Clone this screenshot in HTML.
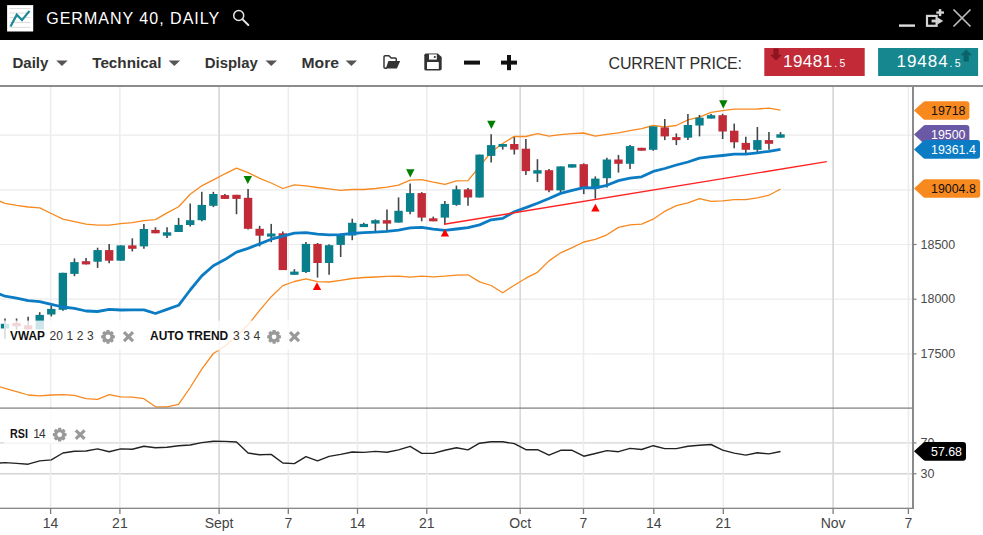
<!DOCTYPE html><html><head><meta charset="utf-8"><title>Germany 40, Daily</title><style>html,body{margin:0;padding:0;background:#fff;width:983px;height:535px;overflow:hidden}svg{display:block}text{font-family:"Liberation Sans",Arial,sans-serif}</style></head><body>
<svg width="983" height="535" viewBox="0 0 983 535">
<defs><clipPath id="main"><rect x="0" y="87" width="912" height="321"/></clipPath><clipPath id="rsi"><rect x="0" y="409" width="912" height="99"/></clipPath></defs>
<rect x="0" y="0" width="983" height="40" fill="#000"/>
<rect x="7.1" y="5.1" width="26.1" height="26.4" fill="#fff"/>
<line x1="9.5" y1="8.5" x2="30.5" y2="8.5" stroke="#d8d8d8" stroke-width="0.9"/>
<line x1="9.5" y1="13" x2="30.5" y2="13" stroke="#d8d8d8" stroke-width="0.9"/>
<line x1="9.5" y1="17.5" x2="30.5" y2="17.5" stroke="#d8d8d8" stroke-width="0.9"/>
<line x1="9.5" y1="22.5" x2="30.5" y2="22.5" stroke="#d8d8d8" stroke-width="0.9"/>
<line x1="9.5" y1="27.4" x2="30.5" y2="27.4" stroke="#d8d8d8" stroke-width="0.9"/>
<polyline points="10.5,26.5 16.8,14.7 22,20.2 29.5,10.9" fill="none" stroke="#1a8a96" stroke-width="2.2" stroke-linejoin="miter"/>
<text x="46.2" y="23.7" font-size="16" fill="#fff" textLength="173" lengthAdjust="spacing">GERMANY 40, DAILY</text>
<circle cx="238.7" cy="15.5" r="5" fill="none" stroke="#e6e6e6" stroke-width="1.5"/>
<line x1="242.6" y1="19.4" x2="248.3" y2="25" stroke="#e6e6e6" stroke-width="2" stroke-linecap="round"/>
<rect x="899" y="24.4" width="16" height="2.4" fill="#ddd"/>
<rect x="927" y="15.9" width="9.6" height="9.9" fill="none" stroke="#d4d4d4" stroke-width="2.2"/>
<rect x="931.6" y="19.6" width="6.6" height="2.8" fill="#d4d4d4"/>
<path d="M937.4,17.3 L943.2,20.95 L937.4,24.5 Z" fill="#d4d4d4"/>
<rect x="938.8" y="9.1" width="2.5" height="7" fill="#d4d4d4"/><rect x="936.3" y="11.4" width="7.7" height="2.3" fill="#d4d4d4"/>
<path d="M953.5,9.5 L970.5,26.5 M970.5,9.5 L953.5,26.5" stroke="#bcbcbc" stroke-width="1.7"/>
<rect x="0" y="40" width="983" height="45" fill="#fff"/>
<rect x="0" y="85" width="983" height="2" fill="#8c8c8c"/>
<text x="12.4" y="68.2" font-size="15" font-weight="bold" fill="#333" textLength="36" lengthAdjust="spacingAndGlyphs">Daily</text>
<path d="M56.2,60.5 h11.5 l-5.75,5.5 z" fill="#555"/>
<text x="92.2" y="68.2" font-size="15" font-weight="bold" fill="#333" textLength="69.3" lengthAdjust="spacingAndGlyphs">Technical</text>
<path d="M168.6,60.5 h11.5 l-5.75,5.5 z" fill="#555"/>
<text x="204.8" y="68.2" font-size="15" font-weight="bold" fill="#333" textLength="53" lengthAdjust="spacingAndGlyphs">Display</text>
<path d="M265.5,60.5 h11.5 l-5.75,5.5 z" fill="#555"/>
<text x="301.5" y="68.2" font-size="15" font-weight="bold" fill="#333" textLength="37.5" lengthAdjust="spacingAndGlyphs">More</text>
<path d="M345.6,60.5 h11.5 l-5.75,5.5 z" fill="#555"/>
<path d="M396.3,61 V59.1 q0,-1.1 -1.1,-1.1 H391.2 l-2.3,-2.3 H385.1 q-1.1,0 -1.1,1.1 V67.2 q0,1.1 1.1,1.1 H387" fill="#fff" stroke="#333" stroke-width="1.45"/>
<path d="M388.4,61.1 H400.2 L396.9,68.5 H385.8 Z" fill="#333"/>
<path d="M424.3,55.3 q0,-1.7 1.7,-1.7 h11.8 l3.9,3.3 v11.9 q0,1.8 -1.8,1.8 h-13.9 q-1.7,0 -1.7,-1.7 z" fill="#333"/>
<rect x="427" y="61.9" width="11.8" height="7.2" rx="0.6" fill="#fff"/>
<rect x="429" y="54.4" width="7.8" height="5.2" fill="#fff"/>
<circle cx="434.8" cy="57" r="1.1" fill="#333"/>
<rect x="464" y="60.6" width="16" height="4" fill="#111"/>
<rect x="501" y="60.6" width="16" height="4" fill="#111"/>
<rect x="507" y="55" width="4" height="15.2" fill="#111"/>
<text x="608.5" y="68.8" font-size="16" fill="#2e2e2e" textLength="133.5" lengthAdjust="spacing">CURRENT PRICE:</text>
<rect x="764.3" y="48" width="100.4" height="28" fill="#c22a38"/>
<path d="M773.4,48.6 h5.2 v6.2 h3.2 l-5.8,5.8 -5.8,-5.8 h3.2 z" fill="#8c1520"/>
<text x="783" y="66.9" font-size="17" fill="#fff" textLength="49.2" lengthAdjust="spacing">19481</text>
<text x="834.3" y="66.9" font-size="10.5" fill="#fff" letter-spacing="2.2">.5</text>
<rect x="878.1" y="48" width="100" height="28" fill="#16878f"/>
<path d="M963.6,61.4 h5.2 v-6.2 h3.2 l-5.8,-5.8 -5.8,5.8 h3.2 z" fill="#0b636a"/>
<text x="896.6" y="66.9" font-size="17" fill="#fff" textLength="51" lengthAdjust="spacing">19484</text>
<text x="949.6" y="66.9" font-size="10.5" fill="#fff" letter-spacing="2.2">.5</text>
<line x1="0" y1="135.1" x2="912" y2="135.1" stroke="#ebebeb" stroke-width="1.2"/>
<line x1="0" y1="189.8" x2="912" y2="189.8" stroke="#ebebeb" stroke-width="1.2"/>
<line x1="0" y1="244.5" x2="912" y2="244.5" stroke="#ebebeb" stroke-width="1.2"/>
<line x1="0" y1="299.2" x2="912" y2="299.2" stroke="#ebebeb" stroke-width="1.2"/>
<line x1="0" y1="353.9" x2="912" y2="353.9" stroke="#ebebeb" stroke-width="1.2"/>
<line x1="0" y1="442.9" x2="912" y2="442.9" stroke="#d4d4d4" stroke-width="1.4"/>
<line x1="0" y1="473.75" x2="912" y2="473.75" stroke="#d4d4d4" stroke-width="1.4"/>
<line x1="50.6" y1="87" x2="50.6" y2="508" stroke="#ececec" stroke-width="1.5"/>
<line x1="119.9" y1="87" x2="119.9" y2="508" stroke="#ececec" stroke-width="1.5"/>
<line x1="288.3" y1="87" x2="288.3" y2="508" stroke="#ececec" stroke-width="1.5"/>
<line x1="357.5" y1="87" x2="357.5" y2="508" stroke="#ececec" stroke-width="1.5"/>
<line x1="426.8" y1="87" x2="426.8" y2="508" stroke="#ececec" stroke-width="1.5"/>
<line x1="583.5" y1="87" x2="583.5" y2="508" stroke="#ececec" stroke-width="1.5"/>
<line x1="653.8" y1="87" x2="653.8" y2="508" stroke="#ececec" stroke-width="1.5"/>
<line x1="723.3" y1="87" x2="723.3" y2="508" stroke="#ececec" stroke-width="1.5"/>
<line x1="908.4" y1="87" x2="908.4" y2="508" stroke="#ececec" stroke-width="1.5"/>
<line x1="219.1" y1="87" x2="219.1" y2="508" stroke="#d9d9d9" stroke-width="1.7"/>
<line x1="520.2" y1="87" x2="520.2" y2="508" stroke="#d9d9d9" stroke-width="1.7"/>
<line x1="833.1" y1="87" x2="833.1" y2="508" stroke="#d9d9d9" stroke-width="1.7"/>
<g clip-path="url(#main)">
<polyline points="-6.57,198.67 5,203.3 16.57,205.3 28.15,207 39.72,207.8 51.3,213.5 62.88,219.2 74.45,221.6 86.02,224.1 97.6,225.1 109.17,225.1 120.75,223.7 132.32,222.6 143.9,220.6 155.47,219.6 167.05,212.9 178.62,206.8 190.2,194.2 201.77,185.8 213.35,179.9 224.92,173.8 236.5,168.1 248.07,172.6 259.65,178.3 271.22,183 282.8,188.5 294.38,184.8 305.95,185.8 317.52,187.5 329.1,188.9 340.67,190.3 352.25,189.5 363.82,189.5 375.4,188.5 386.97,187.1 398.55,185.2 410.12,180.2 421.7,179.6 433.27,182.1 444.85,184.3 456.42,180.9 468,180.6 479.57,166.5 491.15,152.1 502.72,143.5 514.3,136.4 525.88,136.5 537.45,133.7 549.02,136.2 560.6,134.7 572.17,133.7 583.75,133 595.32,136.2 606.9,134.3 618.47,132.8 630.05,130.6 641.62,128.7 653.2,125.5 664.77,126.8 676.35,125.5 687.92,119.9 699.5,117.1 711.07,112.4 722.65,110.6 734.22,109.1 745.8,109.1 757.38,109 768.95,108.1 780.52,110.2" fill="none" stroke="#f7891f" stroke-width="1.3" stroke-linejoin="round" />
<polyline points="-6.57,385.06 5,388.3 16.57,391.6 28.15,395 39.72,395.8 51.3,395 62.88,394.6 74.45,395.4 86.02,398.7 97.6,399.3 109.17,394.6 120.75,396.8 132.32,397.2 143.9,398.7 155.47,406.8 167.05,406.8 178.62,404.4 190.2,387.5 201.77,369.2 213.35,353.5 224.92,346.2 236.5,336.3 248.07,324.8 259.65,310.4 271.22,296.7 282.8,285.6 294.38,281.5 305.95,278.9 317.52,281.6 329.1,282 340.67,280.3 352.25,278.5 363.82,277.5 375.4,277 386.97,276.4 398.55,276.2 410.12,277.2 421.7,276.2 433.27,276.8 444.85,276.2 456.42,275.2 468,274.8 479.57,281.9 491.15,285.5 502.72,292.7 514.3,285.3 525.88,278.2 537.45,272.3 549.02,260.9 560.6,252.8 572.17,247.7 583.75,242 595.32,239.3 606.9,234.8 618.47,227.4 630.05,224.8 641.62,224.1 653.2,219.2 664.77,211.3 676.35,205.7 687.92,202.8 699.5,198.6 711.07,201.3 722.65,200.8 734.22,199.7 745.8,199.7 757.38,197.9 768.95,195.2 780.52,189" fill="none" stroke="#f7891f" stroke-width="1.3" stroke-linejoin="round" />
<line x1="5" y1="318.5" x2="5" y2="339" stroke="#41484b" stroke-width="1.6"/>
<line x1="16.57" y1="318.5" x2="16.57" y2="329.7" stroke="#41484b" stroke-width="1.6"/>
<line x1="28.15" y1="316.7" x2="28.15" y2="329.4" stroke="#41484b" stroke-width="1.6"/>
<line x1="39.72" y1="312.2" x2="39.72" y2="329.4" stroke="#41484b" stroke-width="1.6"/>
<line x1="51.3" y1="305.7" x2="51.3" y2="316.4" stroke="#41484b" stroke-width="1.6"/>
<line x1="62.88" y1="272.8" x2="62.88" y2="310.7" stroke="#41484b" stroke-width="1.6"/>
<line x1="74.45" y1="258.4" x2="74.45" y2="276.2" stroke="#41484b" stroke-width="1.6"/>
<line x1="86.02" y1="258" x2="86.02" y2="264.4" stroke="#41484b" stroke-width="1.6"/>
<line x1="97.6" y1="247.7" x2="97.6" y2="267.9" stroke="#41484b" stroke-width="1.6"/>
<line x1="109.17" y1="244.1" x2="109.17" y2="263.2" stroke="#41484b" stroke-width="1.6"/>
<line x1="120.75" y1="245.4" x2="120.75" y2="260.7" stroke="#41484b" stroke-width="1.6"/>
<line x1="132.32" y1="238.3" x2="132.32" y2="251.4" stroke="#41484b" stroke-width="1.6"/>
<line x1="143.9" y1="223.9" x2="143.9" y2="248.8" stroke="#41484b" stroke-width="1.6"/>
<line x1="155.47" y1="227.3" x2="155.47" y2="233.3" stroke="#41484b" stroke-width="1.6"/>
<line x1="167.05" y1="227.3" x2="167.05" y2="237.9" stroke="#41484b" stroke-width="1.6"/>
<line x1="178.62" y1="217.9" x2="178.62" y2="232" stroke="#41484b" stroke-width="1.6"/>
<line x1="190.2" y1="203.4" x2="190.2" y2="226.4" stroke="#41484b" stroke-width="1.6"/>
<line x1="201.77" y1="191.8" x2="201.77" y2="221.3" stroke="#41484b" stroke-width="1.6"/>
<line x1="213.35" y1="191.8" x2="213.35" y2="207.1" stroke="#41484b" stroke-width="1.6"/>
<line x1="224.92" y1="194" x2="224.92" y2="198.9" stroke="#41484b" stroke-width="1.6"/>
<line x1="236.5" y1="194.8" x2="236.5" y2="214.2" stroke="#41484b" stroke-width="1.6"/>
<line x1="248.07" y1="189" x2="248.07" y2="229.5" stroke="#41484b" stroke-width="1.6"/>
<line x1="259.65" y1="225.8" x2="259.65" y2="246.4" stroke="#41484b" stroke-width="1.6"/>
<line x1="271.22" y1="223.9" x2="271.22" y2="242.2" stroke="#41484b" stroke-width="1.6"/>
<line x1="282.8" y1="231.4" x2="282.8" y2="270.1" stroke="#41484b" stroke-width="1.6"/>
<line x1="294.38" y1="269.2" x2="294.38" y2="274.8" stroke="#41484b" stroke-width="1.6"/>
<line x1="305.95" y1="242.1" x2="305.95" y2="272.9" stroke="#41484b" stroke-width="1.6"/>
<line x1="317.52" y1="243" x2="317.52" y2="277.6" stroke="#41484b" stroke-width="1.6"/>
<line x1="329.1" y1="244.3" x2="329.1" y2="274.8" stroke="#41484b" stroke-width="1.6"/>
<line x1="340.67" y1="233.3" x2="340.67" y2="257" stroke="#41484b" stroke-width="1.6"/>
<line x1="352.25" y1="218.7" x2="352.25" y2="240.2" stroke="#41484b" stroke-width="1.6"/>
<line x1="363.82" y1="222.8" x2="363.82" y2="227.1" stroke="#41484b" stroke-width="1.6"/>
<line x1="375.4" y1="219.4" x2="375.4" y2="232" stroke="#41484b" stroke-width="1.6"/>
<line x1="386.97" y1="209.5" x2="386.97" y2="231" stroke="#41484b" stroke-width="1.6"/>
<line x1="398.55" y1="197.4" x2="398.55" y2="222.6" stroke="#41484b" stroke-width="1.6"/>
<line x1="410.12" y1="183.4" x2="410.12" y2="214.2" stroke="#41484b" stroke-width="1.6"/>
<line x1="421.7" y1="192.1" x2="421.7" y2="221.3" stroke="#41484b" stroke-width="1.6"/>
<line x1="433.27" y1="216.6" x2="433.27" y2="221.3" stroke="#41484b" stroke-width="1.6"/>
<line x1="444.85" y1="201.1" x2="444.85" y2="224.5" stroke="#41484b" stroke-width="1.6"/>
<line x1="456.42" y1="185.6" x2="456.42" y2="205.8" stroke="#41484b" stroke-width="1.6"/>
<line x1="468" y1="188.1" x2="468" y2="205.7" stroke="#41484b" stroke-width="1.6"/>
<line x1="479.57" y1="154.6" x2="479.57" y2="197.5" stroke="#41484b" stroke-width="1.6"/>
<line x1="491.15" y1="134.2" x2="491.15" y2="162.6" stroke="#41484b" stroke-width="1.6"/>
<line x1="502.72" y1="144" x2="502.72" y2="149.6" stroke="#41484b" stroke-width="1.6"/>
<line x1="514.3" y1="137.1" x2="514.3" y2="154.5" stroke="#41484b" stroke-width="1.6"/>
<line x1="525.88" y1="139" x2="525.88" y2="174.9" stroke="#41484b" stroke-width="1.6"/>
<line x1="537.45" y1="159.2" x2="537.45" y2="182" stroke="#41484b" stroke-width="1.6"/>
<line x1="549.02" y1="168.9" x2="549.02" y2="192.2" stroke="#41484b" stroke-width="1.6"/>
<line x1="560.6" y1="166.4" x2="560.6" y2="192.2" stroke="#41484b" stroke-width="1.6"/>
<line x1="572.17" y1="164.2" x2="572.17" y2="167.6" stroke="#41484b" stroke-width="1.6"/>
<line x1="583.75" y1="163.3" x2="583.75" y2="194.1" stroke="#41484b" stroke-width="1.6"/>
<line x1="595.32" y1="176.4" x2="595.32" y2="198.8" stroke="#41484b" stroke-width="1.6"/>
<line x1="606.9" y1="157.7" x2="606.9" y2="187.6" stroke="#41484b" stroke-width="1.6"/>
<line x1="618.47" y1="154.9" x2="618.47" y2="172.6" stroke="#41484b" stroke-width="1.6"/>
<line x1="630.05" y1="145.1" x2="630.05" y2="168.9" stroke="#41484b" stroke-width="1.6"/>
<line x1="641.62" y1="147.8" x2="641.62" y2="150.7" stroke="#41484b" stroke-width="1.6"/>
<line x1="653.2" y1="126.4" x2="653.2" y2="150.7" stroke="#41484b" stroke-width="1.6"/>
<line x1="664.77" y1="119" x2="664.77" y2="140.1" stroke="#41484b" stroke-width="1.6"/>
<line x1="676.35" y1="133.4" x2="676.35" y2="145.1" stroke="#41484b" stroke-width="1.6"/>
<line x1="687.92" y1="113.9" x2="687.92" y2="140.1" stroke="#41484b" stroke-width="1.6"/>
<line x1="699.5" y1="114.9" x2="699.5" y2="136.4" stroke="#41484b" stroke-width="1.6"/>
<line x1="711.07" y1="113.9" x2="711.07" y2="118.6" stroke="#41484b" stroke-width="1.6"/>
<line x1="722.65" y1="113.9" x2="722.65" y2="139" stroke="#41484b" stroke-width="1.6"/>
<line x1="734.22" y1="123.6" x2="734.22" y2="148.3" stroke="#41484b" stroke-width="1.6"/>
<line x1="745.8" y1="136.7" x2="745.8" y2="153.6" stroke="#41484b" stroke-width="1.6"/>
<line x1="757.38" y1="127" x2="757.38" y2="152.6" stroke="#41484b" stroke-width="1.6"/>
<line x1="768.95" y1="132.1" x2="768.95" y2="149.8" stroke="#41484b" stroke-width="1.6"/>
<line x1="780.52" y1="132.1" x2="780.52" y2="137.7" stroke="#41484b" stroke-width="1.6"/>
<rect x="0.8" y="323.8" width="8.4" height="4.7" fill="#087f8b"/>
<rect x="12.38" y="322.9" width="8.4" height="3.4" fill="#c12a37"/>
<rect x="23.95" y="325.3" width="8.4" height="4.1" fill="#c12a37"/>
<rect x="35.52" y="314.9" width="8.4" height="14.5" fill="#087f8b"/>
<rect x="47.1" y="308.9" width="8.4" height="5.6" fill="#087f8b"/>
<rect x="58.67" y="272.8" width="8.4" height="37" fill="#087f8b"/>
<rect x="70.25" y="262.1" width="8.4" height="11.8" fill="#087f8b"/>
<rect x="81.82" y="261.2" width="8.4" height="3.2" fill="#c12a37"/>
<rect x="93.4" y="250.1" width="8.4" height="11.6" fill="#087f8b"/>
<rect x="104.97" y="250.1" width="8.4" height="10.6" fill="#c12a37"/>
<rect x="116.55" y="245.4" width="8.4" height="15.3" fill="#087f8b"/>
<rect x="128.12" y="245.4" width="8.4" height="3.4" fill="#c12a37"/>
<rect x="139.7" y="229" width="8.4" height="17.4" fill="#087f8b"/>
<rect x="151.28" y="229.9" width="8.4" height="3.4" fill="#c12a37"/>
<rect x="162.85" y="232.3" width="8.4" height="3.4" fill="#087f8b"/>
<rect x="174.43" y="224.9" width="8.4" height="7.1" fill="#087f8b"/>
<rect x="186" y="220.2" width="8.4" height="4.8" fill="#087f8b"/>
<rect x="197.57" y="204.9" width="8.4" height="15.3" fill="#087f8b"/>
<rect x="209.15" y="194" width="8.4" height="11.8" fill="#087f8b"/>
<rect x="220.72" y="195.1" width="8.4" height="3.8" fill="#c12a37"/>
<rect x="232.3" y="194.8" width="8.4" height="4.1" fill="#c12a37"/>
<rect x="243.88" y="197.8" width="8.4" height="31" fill="#c12a37"/>
<rect x="255.45" y="228.8" width="8.4" height="6.9" fill="#c12a37"/>
<rect x="267.02" y="233.5" width="8.4" height="3.1" fill="#087f8b"/>
<rect x="278.6" y="233.3" width="8.4" height="36.8" fill="#c12a37"/>
<rect x="290.18" y="271.6" width="8.4" height="3.2" fill="#087f8b"/>
<rect x="301.75" y="243.9" width="8.4" height="28.1" fill="#087f8b"/>
<rect x="313.32" y="243.9" width="8.4" height="19.1" fill="#c12a37"/>
<rect x="324.9" y="245.2" width="8.4" height="17.8" fill="#087f8b"/>
<rect x="336.47" y="235.1" width="8.4" height="9.8" fill="#087f8b"/>
<rect x="348.05" y="222.8" width="8.4" height="12.7" fill="#087f8b"/>
<rect x="359.62" y="223.9" width="8.4" height="3.2" fill="#087f8b"/>
<rect x="371.2" y="220.2" width="8.4" height="3.4" fill="#087f8b"/>
<rect x="382.77" y="220.2" width="8.4" height="3.4" fill="#c12a37"/>
<rect x="394.35" y="210.8" width="8.4" height="11.8" fill="#087f8b"/>
<rect x="405.93" y="193.1" width="8.4" height="18.7" fill="#087f8b"/>
<rect x="417.5" y="193.1" width="8.4" height="24.5" fill="#c12a37"/>
<rect x="429.07" y="218.3" width="8.4" height="3" fill="#c12a37"/>
<rect x="440.65" y="203.9" width="8.4" height="13.7" fill="#087f8b"/>
<rect x="452.22" y="189.3" width="8.4" height="15.6" fill="#087f8b"/>
<rect x="463.8" y="189.4" width="8.4" height="8.1" fill="#c12a37"/>
<rect x="475.38" y="154.6" width="8.4" height="42.9" fill="#087f8b"/>
<rect x="486.95" y="145.1" width="8.4" height="10.8" fill="#087f8b"/>
<rect x="498.52" y="144" width="8.4" height="2.8" fill="#087f8b"/>
<rect x="510.1" y="144" width="8.4" height="5.6" fill="#c12a37"/>
<rect x="521.67" y="148.7" width="8.4" height="22.4" fill="#c12a37"/>
<rect x="533.25" y="170.2" width="8.4" height="3.4" fill="#087f8b"/>
<rect x="544.82" y="170.2" width="8.4" height="20.2" fill="#c12a37"/>
<rect x="556.4" y="166.4" width="8.4" height="24" fill="#087f8b"/>
<rect x="567.97" y="164.2" width="8.4" height="3.4" fill="#087f8b"/>
<rect x="579.55" y="164.2" width="8.4" height="23.4" fill="#c12a37"/>
<rect x="591.12" y="178.6" width="8.4" height="9.9" fill="#087f8b"/>
<rect x="602.7" y="159.5" width="8.4" height="18.7" fill="#087f8b"/>
<rect x="614.27" y="159.5" width="8.4" height="4.3" fill="#c12a37"/>
<rect x="625.85" y="146.1" width="8.4" height="17.7" fill="#087f8b"/>
<rect x="637.42" y="147.8" width="8.4" height="2.9" fill="#c12a37"/>
<rect x="649" y="126.4" width="8.4" height="23.4" fill="#087f8b"/>
<rect x="660.57" y="127.4" width="8.4" height="9" fill="#c12a37"/>
<rect x="672.15" y="137.1" width="8.4" height="3" fill="#c12a37"/>
<rect x="683.72" y="125" width="8.4" height="12.7" fill="#087f8b"/>
<rect x="695.3" y="117.7" width="8.4" height="7.8" fill="#087f8b"/>
<rect x="706.87" y="115.2" width="8.4" height="3.4" fill="#087f8b"/>
<rect x="718.45" y="115.2" width="8.4" height="16.3" fill="#c12a37"/>
<rect x="730.02" y="130.7" width="8.4" height="11.6" fill="#c12a37"/>
<rect x="741.6" y="142.9" width="8.4" height="6.9" fill="#c12a37"/>
<rect x="753.17" y="140.1" width="8.4" height="9.7" fill="#087f8b"/>
<rect x="764.75" y="140.1" width="8.4" height="3.7" fill="#c12a37"/>
<rect x="776.32" y="134.3" width="8.4" height="3.4" fill="#087f8b"/>
<polyline points="-6.57,291.57 5,296.2 16.57,298.2 28.15,300.7 39.72,301.7 51.3,304.3 62.88,307 74.45,308.4 86.02,311 97.6,311.5 109.17,309.4 120.75,310 132.32,309.8 143.9,309.8 155.47,313.5 167.05,309.4 178.62,305.3 190.2,290 201.77,275.9 213.35,265.7 224.92,259.6 236.5,252.1 248.07,248.4 259.65,243.9 271.22,239.2 282.8,236.2 294.38,233.1 305.95,232.7 317.52,234.2 329.1,234.8 340.67,234.6 352.25,233.5 363.82,232.7 375.4,232.1 386.97,231.4 398.55,230.1 410.12,227.9 421.7,227.3 433.27,229.2 444.85,230.3 456.42,229 468,227.6 479.57,224.9 491.15,219.8 502.72,218.4 514.3,211.7 525.88,207.6 537.45,203.2 549.02,198.5 560.6,193.4 572.17,190.3 583.75,187.7 595.32,187.9 606.9,185.3 618.47,180.6 630.05,178.1 641.62,176.8 653.2,171.4 664.77,168.5 676.35,165 687.92,162 699.5,158.2 711.07,156.7 722.65,155.5 734.22,154.1 745.8,154.1 757.38,152.8 768.95,151.3 780.52,149.3" fill="none" stroke="#0b7cc3" stroke-width="2.8" stroke-linejoin="round" />
<line x1="444.1" y1="224.3" x2="826.8" y2="161.6" stroke="#ff2222" stroke-width="1.4"/>
<path d="M243.6,175.9 h8.4 l-4.2,8.1 z" fill="#007f00"/>
<path d="M406.1,169.3 h8.4 l-4.2,8.1 z" fill="#007f00"/>
<path d="M487.2,120.8 h8.4 l-4.2,8.1 z" fill="#007f00"/>
<path d="M719.1,100.3 h8.4 l-4.2,8.1 z" fill="#007f00"/>
<path d="M312.8,289.9 h8.4 l-4.2,-7.7 z" fill="#ff0000"/>
<path d="M440.7,236.6 h8.4 l-4.2,-7.7 z" fill="#ff0000"/>
<path d="M591.2,211.5 h8.4 l-4.2,-7.7 z" fill="#ff0000"/>
</g>
<g clip-path="url(#rsi)">
<polyline points="-6.57,463.5 5,462.6 16.57,463.4 28.15,464.2 39.72,460.9 51.3,459.9 62.88,453 74.45,451.2 86.02,451 97.6,448.9 109.17,451.8 120.75,448.9 132.32,449.3 143.9,446.3 155.47,447.7 167.05,447.3 178.62,445.7 190.2,445 201.77,442.6 213.35,441.2 224.92,441.4 236.5,442 248.07,453 259.65,454.8 271.22,454.4 282.8,463 294.38,463.6 305.95,456.7 317.52,460.9 329.1,456.4 340.67,454.4 352.25,452 363.82,452.4 375.4,451.4 386.97,452.2 398.55,449.9 410.12,446.3 421.7,453.4 433.27,453.4 444.85,450.3 456.42,447.7 468,449.9 479.57,443.2 491.15,441.8 502.72,441.8 514.3,443.6 525.88,449.7 537.45,449.7 549.02,455.2 560.6,450.3 572.17,450.3 583.75,456.2 595.32,453.5 606.9,450.6 618.47,451.7 630.05,448.4 641.62,449.5 653.2,445.7 664.77,448.6 676.35,448.6 687.92,446.3 699.5,445.2 711.07,444.5 722.65,450.1 734.22,453.1 745.8,455.1 757.38,452.8 768.95,453.9 780.52,451.5" fill="none" stroke="#222" stroke-width="1.4" stroke-linejoin="round" />
</g>
<rect x="0" y="407.5" width="912" height="1.2" fill="#7a7a7a"/>
<rect x="0" y="507.7" width="913" height="1.2" fill="#7a7a7a"/>
<rect x="912" y="87" width="2" height="422" fill="#8a8a8a"/>
<line x1="50.6" y1="509" x2="50.6" y2="514" stroke="#7a7a7a" stroke-width="1.3"/>
<line x1="119.9" y1="509" x2="119.9" y2="514" stroke="#7a7a7a" stroke-width="1.3"/>
<line x1="288.3" y1="509" x2="288.3" y2="514" stroke="#7a7a7a" stroke-width="1.3"/>
<line x1="357.5" y1="509" x2="357.5" y2="514" stroke="#7a7a7a" stroke-width="1.3"/>
<line x1="426.8" y1="509" x2="426.8" y2="514" stroke="#7a7a7a" stroke-width="1.3"/>
<line x1="583.5" y1="509" x2="583.5" y2="514" stroke="#7a7a7a" stroke-width="1.3"/>
<line x1="653.8" y1="509" x2="653.8" y2="514" stroke="#7a7a7a" stroke-width="1.3"/>
<line x1="723.3" y1="509" x2="723.3" y2="514" stroke="#7a7a7a" stroke-width="1.3"/>
<line x1="908.4" y1="509" x2="908.4" y2="514" stroke="#7a7a7a" stroke-width="1.3"/>
<line x1="219.1" y1="509" x2="219.1" y2="514" stroke="#7a7a7a" stroke-width="1.3"/>
<line x1="520.2" y1="509" x2="520.2" y2="514" stroke="#7a7a7a" stroke-width="1.3"/>
<line x1="833.1" y1="509" x2="833.1" y2="514" stroke="#7a7a7a" stroke-width="1.3"/>
<rect x="4" y="320.6" width="300" height="29.8" fill="#fff" fill-opacity="0.8"/>
<rect x="4" y="409" width="86" height="34.6" fill="#fff" fill-opacity="0.8"/>
<text x="10" y="339.6" font-size="12" font-weight="bold" fill="#111" textLength="34.8" lengthAdjust="spacingAndGlyphs">VWAP</text>
<text x="49.6" y="339.6" font-size="12" fill="#333" textLength="44" lengthAdjust="spacing">20 1 2 3</text>
<path d="M114.86,335.41 L114.86,338.19 L112.79,338.77 L112.78,338.80 L113.83,340.67 L111.87,342.63 L110.00,341.58 L109.97,341.59 L109.39,343.66 L106.61,343.66 L106.03,341.59 L106.00,341.58 L104.13,342.63 L102.17,340.67 L103.22,338.80 L103.21,338.77 L101.14,338.19 L101.14,335.41 L103.21,334.83 L103.22,334.80 L102.17,332.93 L104.13,330.97 L106.00,332.02 L106.03,332.01 L106.61,329.94 L109.39,329.94 L109.97,332.01 L110.00,332.02 L111.87,330.97 L113.83,332.93 L112.78,334.80 L112.79,334.83 Z" fill="#999"/><circle cx="108" cy="336.8" r="2.38" fill="#fff"/>
<path d="M124,332.2 L133,341.2 M133,332.2 L124,341.2" stroke="#999" stroke-width="3.1"/>
<text x="150" y="339.6" font-size="12" font-weight="bold" fill="#111" textLength="78.2" lengthAdjust="spacingAndGlyphs">AUTO TREND</text>
<text x="233" y="339.6" font-size="12" fill="#333" textLength="27.2" lengthAdjust="spacing">3 3 4</text>
<path d="M280.96,335.41 L280.96,338.19 L278.89,338.77 L278.88,338.80 L279.93,340.67 L277.97,342.63 L276.10,341.58 L276.07,341.59 L275.49,343.66 L272.71,343.66 L272.13,341.59 L272.10,341.58 L270.23,342.63 L268.27,340.67 L269.32,338.80 L269.31,338.77 L267.24,338.19 L267.24,335.41 L269.31,334.83 L269.32,334.80 L268.27,332.93 L270.23,330.97 L272.10,332.02 L272.13,332.01 L272.71,329.94 L275.49,329.94 L276.07,332.01 L276.10,332.02 L277.97,330.97 L279.93,332.93 L278.88,334.80 L278.89,334.83 Z" fill="#999"/><circle cx="274.1" cy="336.8" r="2.38" fill="#fff"/>
<path d="M290,332.2 L299,341.2 M299,332.2 L290,341.2" stroke="#999" stroke-width="3.1"/>
<text x="10" y="437.7" font-size="12" font-weight="bold" fill="#111" textLength="17.9" lengthAdjust="spacingAndGlyphs">RSI</text>
<text x="33.3" y="437.7" font-size="12" fill="#333" textLength="12.5" lengthAdjust="spacing">14</text>
<path d="M66.56,433.31 L66.56,436.09 L64.49,436.67 L64.48,436.70 L65.53,438.57 L63.57,440.53 L61.70,439.48 L61.67,439.49 L61.09,441.56 L58.31,441.56 L57.73,439.49 L57.70,439.48 L55.83,440.53 L53.87,438.57 L54.92,436.70 L54.91,436.67 L52.84,436.09 L52.84,433.31 L54.91,432.73 L54.92,432.70 L53.87,430.83 L55.83,428.87 L57.70,429.92 L57.73,429.91 L58.31,427.84 L61.09,427.84 L61.67,429.91 L61.70,429.92 L63.57,428.87 L65.53,430.83 L64.48,432.70 L64.49,432.73 Z" fill="#999"/><circle cx="59.7" cy="434.7" r="2.38" fill="#fff"/>
<path d="M75.8,430.4 L84.6,438.8 M84.6,430.4 L75.8,438.8" stroke="#999" stroke-width="3.1"/>
<line x1="914" y1="244.5" x2="916.5" y2="244.5" stroke="#7a7a7a" stroke-width="1.2"/>
<text x="920.5" y="248.6" font-size="12.5" fill="#4a4a4a">18500</text>
<line x1="914" y1="299.2" x2="916.5" y2="299.2" stroke="#7a7a7a" stroke-width="1.2"/>
<text x="920.5" y="303.3" font-size="12.5" fill="#4a4a4a">18000</text>
<line x1="914" y1="353.9" x2="916.5" y2="353.9" stroke="#7a7a7a" stroke-width="1.2"/>
<text x="920.5" y="358.0" font-size="12.5" fill="#4a4a4a">17500</text>
<line x1="914" y1="473.75" x2="916.5" y2="473.75" stroke="#7a7a7a" stroke-width="1.2"/>
<text x="920.5" y="477.85" font-size="12.5" fill="#4a4a4a">30</text>
<line x1="914" y1="442.9" x2="916.5" y2="442.9" stroke="#7a7a7a" stroke-width="1.2"/>
<text x="920.5" y="447.0" font-size="12.5" fill="#4a4a4a">70</text>
<path d="M914,110.5 L923.5,101.75 Q924.3,101.15 925.3,101.15 L966.4,101.15 Q969.4,101.15 969.4,104.15 L969.4,116.85 Q969.4,119.85 966.4,119.85 L925.3,119.85 Q924.3,119.85 923.5,119.25 Z" fill="#f7891f"/>
<text x="931" y="115" font-size="12.4" fill="#111">19718</text>
<path d="M914,134.4 L923.5,125.65 Q924.3,125.05 925.3,125.05 L966.4,125.05 Q969.4,125.05 969.4,128.05 L969.4,140.75 Q969.4,143.75 966.4,143.75 L925.3,143.75 Q924.3,143.75 923.5,143.15 Z" fill="#6a5aa6"/>
<text x="931" y="138.9" font-size="12.4" fill="#fff">19500</text>
<path d="M914,149.4 L923.5,140.65 Q924.3,140.05 925.3,140.05 L977,140.05 Q980,140.05 980,143.05 L980,155.75 Q980,158.75 977,158.75 L925.3,158.75 Q924.3,158.75 923.5,158.15 Z" fill="#0b7cc3"/>
<text x="931" y="153.9" font-size="12.4" fill="#fff">19361.4</text>
<path d="M914,188.5 L923.5,179.75 Q924.3,179.15 925.3,179.15 L977.2,179.15 Q980.2,179.15 980.2,182.15 L980.2,194.85 Q980.2,197.85 977.2,197.85 L925.3,197.85 Q924.3,197.85 923.5,197.25 Z" fill="#f7891f"/>
<text x="931" y="193" font-size="12.4" fill="#111">19004.8</text>
<path d="M914,451.3 L923.5,442.55 Q924.3,441.95 925.3,441.95 L963,441.95 Q966,441.95 966,444.95 L966,457.65 Q966,460.65 963,460.65 L925.3,460.65 Q924.3,460.65 923.5,460.05 Z" fill="#000"/>
<text x="931" y="455.8" font-size="12.4" fill="#fff">57.68</text>
<text x="50.6" y="527.8" font-size="14" fill="#444" text-anchor="middle">14</text>
<text x="119.9" y="527.8" font-size="14" fill="#444" text-anchor="middle">21</text>
<text x="219.1" y="527.8" font-size="14" fill="#444" text-anchor="middle">Sept</text>
<text x="288.3" y="527.8" font-size="14" fill="#444" text-anchor="middle">7</text>
<text x="357.5" y="527.8" font-size="14" fill="#444" text-anchor="middle">14</text>
<text x="426.8" y="527.8" font-size="14" fill="#444" text-anchor="middle">21</text>
<text x="520.2" y="527.8" font-size="14" fill="#444" text-anchor="middle">Oct</text>
<text x="583.5" y="527.8" font-size="14" fill="#444" text-anchor="middle">7</text>
<text x="653.8" y="527.8" font-size="14" fill="#444" text-anchor="middle">14</text>
<text x="723.3" y="527.8" font-size="14" fill="#444" text-anchor="middle">21</text>
<text x="833.1" y="527.8" font-size="14" fill="#444" text-anchor="middle">Nov</text>
<text x="908.4" y="527.8" font-size="14" fill="#444" text-anchor="middle">7</text>
</svg></body></html>
